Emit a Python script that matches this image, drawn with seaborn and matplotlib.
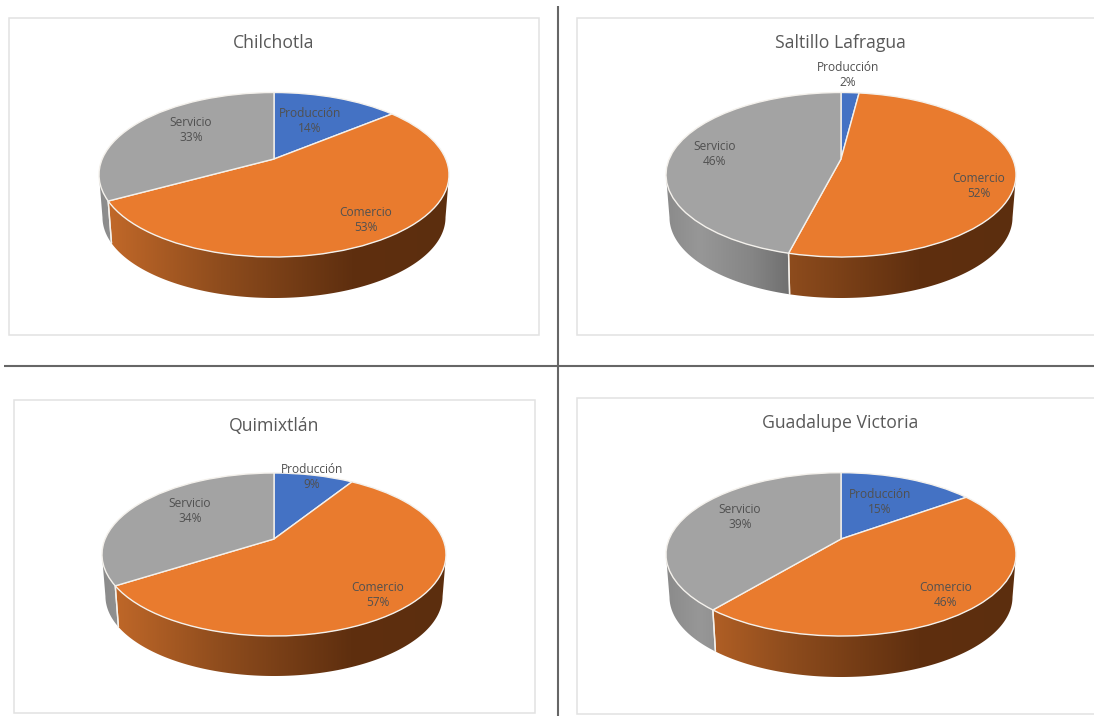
import numpy as np
import matplotlib
matplotlib.use("Agg")
import matplotlib.pyplot as plt
from matplotlib.colors import LinearSegmentedColormap
from matplotlib.patches import Polygon, Rectangle
from matplotlib.transforms import Transform
import seaborn as sns

# ---- data ----
categories = ["Producción", "Comercio", "Servicio"]
municipios = ["Chilchotla", "Saltillo Lafragua", "Quimixtlán", "Guadalupe Victoria"]
chilchotla = [14, 53, 33]
saltillo = [2, 52, 46]
quimixtlan = [9, 57, 34]
guadalupe = [15, 46, 39]
series = [chilchotla, saltillo, quimixtlan, guadalupe]

# ---- layout (pixels of the 1094x716 picture) ----
W, H = 1094, 716
frames = [(9, 18, 539, 335), (577, 18, 1110, 335), (14, 400, 535, 713), (577, 398, 1110, 714)]
# centre x, left, top, bottom of top face, y of the pie apex, bottom of the rim
pies = [(274, 99, 92.5, 257, 159, 298),
        (841, 666, 92.5, 257, 159, 298),
        (274, 102, 473, 636, 539, 676),
        (841, 666, 472.7, 636, 539, 677)]
titles_xy = [(274, 43.5), (840, 43), (274, 425.5), (840, 423.5)]
labels_xy = [[(310, 121), (366, 220), (191, 130)],
             [(848, 75), (979, 186), (714.5, 154)],
             [(312, 477), (378, 595), (190, 511)],
             [(880, 502), (946, 595), (740, 517)]]

sns.set_theme(style="white")
FONT = ["Open Sans", "DejaVu Sans"]
plt.rcParams["font.family"] = FONT
top_colors = sns.color_palette(["#4472C4", "#E97B2E", "#A3A3A3"])

side_cmaps = [
    LinearSegmentedColormap.from_list("b", [(0, "#2F5597"), (1, "#203864")]),
    LinearSegmentedColormap.from_list("o", [(0, "#C66B2A"), (0.35, "#8E4C1D"), (0.72, "#5F2F0F"), (1, "#5C2E0E")]),
    LinearSegmentedColormap.from_list("g", [(0, "#8A8A8A"), (0.1, "#979797"), (0.25, "#858585"), (0.37, "#6C6C6C"), (1, "#6C6C6C")]),
]


class Perspective(Transform):
    """Maps the unit-circle pie to its tilted view (pixels around the ellipse centre)."""
    input_dims = 2
    output_dims = 2

    def __init__(self, rx, ry, c):
        super().__init__()
        self.a = c / ry
        self.A = rx * np.sqrt(1 - self.a ** 2)
        self.ry, self.c = ry, c

    def transform_non_affine(self, values):
        values = np.asarray(values, dtype=float)
        x, y = values[:, 0], values[:, 1]
        w = 1 + self.a * y
        return np.column_stack([self.A * x / w, (self.ry * y + self.c) / w])


fig = plt.figure(figsize=(W / 100, H / 100), dpi=100, facecolor="white")
bg = fig.add_axes([0, 0, 1, 1])
bg.set_xlim(0, W)
bg.set_ylim(H, 0)
bg.axis("off")
for x0, y0, x1, y1 in frames:
    bg.add_patch(Rectangle((x0, y0), x1 - x0, y1 - y0, fc="white", ec="#E2E2E2", lw=1.1))
bg.plot([3.5, W], [365.5, 365.5], color="#666666", lw=1.5, solid_capstyle="butt")
bg.plot([557.5, 557.5], [6, H], color="#666666", lw=1.5, solid_capstyle="butt")

for k, values in enumerate(series):
    cx, left, top, bottom, apex, rim = pies[k]
    rx = cx - left
    ry = (bottom - top) / 2
    cy = (bottom + top) / 2
    persp = Perspective(rx, ry, cy - apex)
    scale = 0.98
    drop = rim - bottom + ry * (1 - scale)

    ax = fig.add_axes([0, 0, 1, 1], zorder=2 + k)
    wedges, _ = ax.pie(values, colors=top_colors, startangle=90, counterclock=False,
                       wedgeprops=dict(edgecolor="#F4F1EC", linewidth=1.0))
    ax.set_aspect("auto")
    ax.patch.set_visible(False)
    ax.set_autoscale_on(False)
    ax.set_xlim(-cx, W - cx)
    ax.set_ylim(cy - H, cy)
    ax.axis("off")

    def rim_points(t):
        p = persp.transform_non_affine(np.column_stack([np.cos(t), np.sin(t)]))
        return p

    for i, wedge in enumerate(wedges):
        wedge.set_transform(persp + ax.transData)
        wedge.set_zorder(5)
        t = np.radians(np.linspace(wedge.theta1, wedge.theta2, 600))
        t = t[np.sin(t) <= -persp.a]
        if t.size < 2:
            continue
        upper = rim_points(t)
        lower = upper * scale - np.array([0, drop])
        poly = np.vstack([upper, lower[::-1]])
        grad = np.linspace(0, 1, 512)[None, :]
        im = ax.imshow(grad, cmap=side_cmaps[i], vmin=0, vmax=1, aspect="auto",
                       extent=(-rx - 2, rx + 2, -ry - drop - 5, ry), zorder=2,
                       interpolation="bilinear")
        clip = Polygon(poly, closed=True, transform=ax.transData)
        im.set_clip_path(clip)
        # thin light seam where two wedges meet on the side wall
        for ang in (wedge.theta1, wedge.theta2):
            ar = np.radians(ang)
            if np.sin(ar) < -persp.a - 0.01:
                p = rim_points(np.array([ar]))
                ax.plot([p[0, 0], p[0, 0] * scale], [p[0, 1], p[0, 1] * scale - drop],
                        color="#F4F1EC", lw=1.0, zorder=3)

    for (lx, ly), name, v in zip(labels_xy[k], categories, values):
        ax.text(lx - cx, cy - ly, f"{name}\n{v}%", ha="center", va="center",
                fontsize=8.6, color="#505050", linespacing=1.22, zorder=8, family=FONT)

    tx, ty = titles_xy[k]
    bg.text(tx, ty, municipios[k], ha="center", va="center", fontsize=12.7,
            color="#595959", family=FONT)

fig.savefig("out.png", dpi=100, facecolor="white")
